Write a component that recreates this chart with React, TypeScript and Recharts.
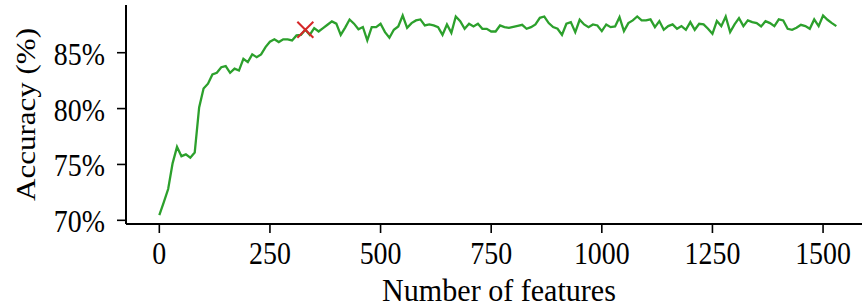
import { ComposedChart, Line, Scatter, XAxis, YAxis, Label } from 'recharts';

const features = [
  0, 10, 20, 30, 40, 50, 60, 70, 80, 90, 100, 110, 120, 130, 140, 150,
  160, 170, 180, 190, 200, 210, 220, 230, 240, 250, 260, 270, 280, 290, 300, 310,
  320, 330, 340, 350, 360, 370, 380, 390, 400, 410, 420, 430, 440, 450, 460, 470,
  480, 490, 500, 510, 520, 530, 540, 550, 560, 570, 580, 590, 600, 610, 620, 630,
  640, 650, 660, 670, 680, 690, 700, 710, 720, 730, 740, 750, 760, 770, 780, 790,
  800, 810, 820, 830, 840, 850, 860, 870, 880, 890, 900, 910, 920, 930, 940, 950,
  960, 970, 980, 990, 1000, 1010, 1020, 1030, 1040, 1050, 1060, 1070, 1080, 1090, 1100, 1110,
  1120, 1130, 1140, 1150, 1160, 1170, 1180, 1190, 1200, 1210, 1220, 1230, 1240, 1250, 1260, 1270,
  1280, 1290, 1300, 1310, 1320, 1330, 1340, 1350, 1360, 1370, 1380, 1390, 1400, 1410, 1420, 1430,
  1440, 1450, 1460, 1470, 1480, 1490, 1500, 1510, 1520, 1530,
];

const accuracy = [
  70.47, 71.6, 72.8, 75.1, 76.57, 75.74, 75.9, 75.6, 76.07, 80.1, 81.8, 82.23, 83.06, 83.2, 83.7, 83.8,
  83.2, 83.57, 83.4, 84.46, 84.16, 84.85, 84.6, 84.85, 85.5, 85.98, 86.2, 85.95, 86.2, 86.2, 86.1, 86.55,
  86.6, 87.05, 86.6, 87.2, 86.9, 87.2, 87.5, 87.8, 87.6, 86.6, 87.25, 87.97, 87.6, 87.1, 87.3, 86.1,
  87.29, 87.29, 87.59, 86.84, 86.34, 87.05, 87.35, 88.33, 87.23, 87.65, 87.89, 87.98, 87.44, 87.53, 87.44, 87.29,
  86.6, 87.53, 86.78, 88.24, 87.83, 87.14, 87.59, 87.35, 87.59, 87.14, 87.14, 86.9, 86.9, 87.44, 87.29, 87.23,
  87.32, 87.41, 87.5, 87.14, 87.29, 87.53, 88.12, 88.24, 87.65, 87.29, 87.14, 86.6, 87.59, 87.74, 86.84, 87.95,
  87.53, 87.29, 87.53, 87.44, 86.93, 87.53, 87.29, 87.35, 88.18, 86.93, 87.65, 87.89, 88.24, 87.89, 87.89, 87.98,
  87.29, 87.83, 87.05, 87.38, 87.53, 87.14, 87.38, 87.05, 87.74, 87.05, 87.59, 87.53, 87.14, 86.69, 87.83, 87.38,
  88.24, 86.84, 87.53, 88.09, 87.38, 87.89, 87.74, 87.65, 87.35, 87.83, 87.65, 87.38, 87.98, 87.89, 87.14, 87.05,
  87.23, 87.5, 87.38, 87.14, 87.98, 87.38, 88.33, 87.95, 87.65, 87.38,
];

// selected feature count (red cross)
const bestFeatures = [330];
const bestAccuracy = [87.05];

const xTicks = [0, 250, 500, 750, 1000, 1250, 1500];
const yTicks = [70, 75, 80, 85];

const lineData = features.map((f, i) => ({ f, acc: accuracy[i] }));
const bestData = bestFeatures.map((f, i) => ({ f, acc: bestAccuracy[i] }));

const FONT = '"Liberation Serif", "Times New Roman", serif';
const X_DOMAIN: [number, number] = [-75.3, 1588];
const Y_DOMAIN: [number, number] = [69.67, 89.27];

const XTick = (props: any) => {
  const { x, y, payload } = props;
  return (
    <g transform={`translate(${x},${y}) scale(0.9,1)`}>
      <text x={0} y={0} dy="0.71em" textAnchor="middle" fontSize={31} fontFamily={FONT} fill="#000">
        {payload.value}
      </text>
    </g>
  );
};

const YTick = (props: any) => {
  const { x, y, payload } = props;
  return (
    <g transform={`translate(${x},${y}) scale(0.9,1)`}>
      <text x={0} y={0} dy={12} textAnchor="end" fontSize={31} fontFamily={FONT} fill="#000">
        {`${payload.value}%`}
      </text>
    </g>
  );
};

const Cross = (props: any) => {
  const { cx, cy } = props;
  const r = 8;
  return (
    <g stroke="#d62728" strokeWidth={2}>
      <line x1={cx - r} y1={cy - r} x2={cx + r} y2={cy + r} />
      <line x1={cx - r} y1={cy + r} x2={cx + r} y2={cy - r} />
    </g>
  );
};

export default function App() {
  return (
    <div style={{ position: 'absolute', left: 0, top: 0 }}>
      <ComposedChart
        width={862}
        height={307}
        data={lineData}
        margin={{ top: 5, right: 0, bottom: 0, left: 0 }}
      >
        <XAxis
          xAxisId="top"
          orientation="top"
          type="number"
          dataKey="f"
          domain={X_DOMAIN}
          allowDataOverflow
          height={0}
          tick={false}
          tickLine={false}
          axisLine={{ stroke: '#000', strokeWidth: 2 }}
        />
        <XAxis
          type="number"
          dataKey="f"
          domain={X_DOMAIN}
          allowDataOverflow
          ticks={xTicks}
          height={83}
          tickSize={9}
          tickMargin={9}
          tick={<XTick />}
          tickLine={{ stroke: '#000', strokeWidth: 1.6 }}
          axisLine={{ stroke: '#000', strokeWidth: 2 }}
        >
          <Label
            content={(p: any) => {
              const vb = p.viewBox;
              return (
                <g transform={`translate(${vb.x + vb.width / 2 + 5},${301}) scale(0.94,1)`}>
                  <text x={0} y={0} textAnchor="middle" fontSize={32} fontFamily={FONT} fill="#000">
                    Number of features
                  </text>
                </g>
              );
            }}
          />
        </XAxis>
        <YAxis
          type="number"
          domain={Y_DOMAIN}
          allowDataOverflow
          ticks={yTicks}
          width={126}
          tickSize={9}
          tickMargin={12}
          tick={<YTick />}
          tickLine={{ stroke: '#000', strokeWidth: 1.6 }}
          axisLine={{ stroke: '#000', strokeWidth: 2 }}
        >
          <Label
            content={(p: any) => {
              const vb = p.viewBox;
              return (
                <g transform={`translate(${35},${vb.y + vb.height / 2}) scale(0.9,1) rotate(-90)`}>
                  <text x={0} y={0} textAnchor="middle" fontSize={31} fontFamily={FONT} fill="#000">
                    Accuracy (%)
                  </text>
                </g>
              );
            }}
          />
        </YAxis>
        <Line
          dataKey="acc"
          stroke="#2ca02c"
          strokeWidth={2.3}
          dot={false}
          activeDot={false}
          isAnimationActive={false}
        />
        <Scatter data={bestData} dataKey="acc" shape={<Cross />} isAnimationActive={false} />
      </ComposedChart>
    </div>
  );
}
